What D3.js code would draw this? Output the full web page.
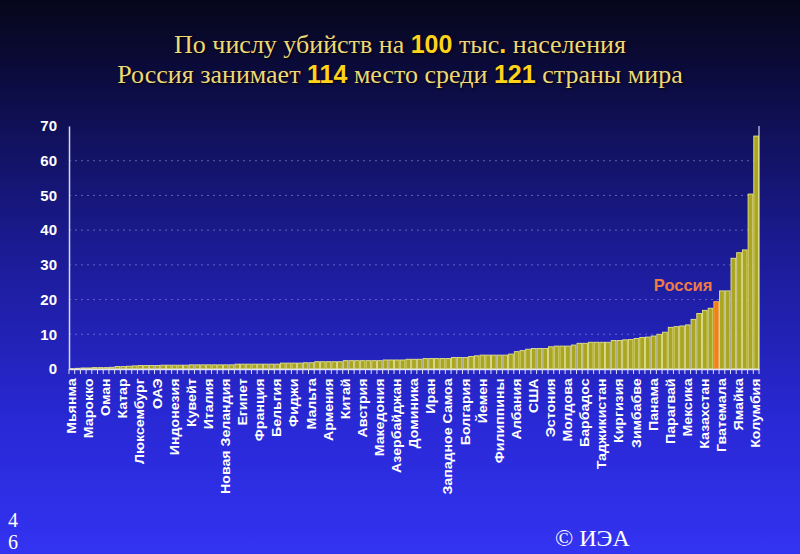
<!DOCTYPE html>
<html><head><meta charset="utf-8">
<script src="https://cdn.jsdelivr.net/npm/d3@7"></script>
<style>html,body{margin:0;padding:0;background:#000;}svg{display:block;}</style>
</head><body>
<script>
const labelNames = ["Мьянма","Марокко","Оман","Катар","Люксембург","ОАЭ","Индонезия","Кувейт","Италия","Новая Зеландия","Египет","Франция","Бельгия","Фиджи","Мальта","Армения","Китай","Австрия","Македония","Азербайджан","Доминика","Иран","Западное Самоа","Болгария","Йемен","Филиппины","Албания","США","Эстония","Молдова","Барбадос","Таджикистан","Киргизия","Зимбабве","Панама","Парагвай","Мексика","Казахстан","Гватемала","Ямайка","Колумбия"];
const values = [
 0.1,0.2,0.3,0.3,0.4,0.4,0.4,0.5,0.7,0.7,
 0.8,0.9,1.0,1.0,1.0,1.0,1.1,1.1,1.1,1.1,
 1.1,1.2,1.2,1.2,1.2,1.2,1.2,1.2,1.2,1.4,
 1.4,1.4,1.4,1.4,1.4,1.4,1.4,1.7,1.7,1.7,
 1.7,1.8,1.8,2.1,2.1,2.1,2.1,2.1,2.4,2.4,
 2.4,2.4,2.4,2.4,2.4,2.6,2.6,2.6,2.6,2.8,
 2.8,2.8,3.0,3.0,3.0,3.0,3.0,3.3,3.3,3.3,
 3.6,3.8,4.0,4.0,4.0,4.0,4.0,4.3,5.0,5.3,
 5.7,5.9,5.9,5.9,6.4,6.6,6.6,6.6,6.9,7.4,
 7.4,7.7,7.7,7.7,7.7,8.2,8.2,8.4,8.5,8.8,
 9.1,9.2,9.5,10.0,10.6,12.0,12.2,12.4,12.7,14.3,
 16.0,16.9,17.5,19.4,22.5,22.5,31.9,33.5,34.3,50.4,
 67.1];
const russiaIndex = 113;
const yTicks = [0,10,20,30,40,50,60,70];
const titleLine1 = [["По числу убийств на ",false],["100",true],[" тыс",false],[".",true],[" населения",false]];
const titleLine2 = [["Россия занимает ",false],["114",true],[" место среди ",false],["121",true],[" страны мира",false]];

const W=800,H=554;
const svg=d3.select("body").append("svg").attr("width",W).attr("height",H);
const defs=svg.append("defs");
const g=defs.append("linearGradient").attr("id","bg").attr("x1",0).attr("y1",0).attr("x2",0).attr("y2",1);
[[0,"#06061a"],[0.15,"#0c0c42"],[0.45,"#1b1b94"],[0.75,"#2828d4"],[1,"#3333f2"]].forEach(s=>g.append("stop").attr("offset",s[0]).attr("stop-color",s[1]));
svg.append("rect").attr("width",W).attr("height",H).attr("fill","url(#bg)");

const pL=69,pR=759,pT=126,pB=369;
const x=d3.scaleBand().domain(d3.range(values.length)).range([pL,pR]).padding(0);
const y=d3.scaleLinear().domain([0,70]).range([pB,pT]);

// gridlines
svg.append("g").selectAll("line").data(yTicks.filter(t=>t>0&&t<70)).join("line")
 .attr("x1",pL).attr("x2",pR).attr("y1",d=>y(d)).attr("y2",d=>y(d))
 .attr("stroke","#8080d0").attr("stroke-width",1).attr("stroke-dasharray","2,4").attr("opacity",0.7);

// right border line
svg.append("line").attr("x1",pR).attr("x2",pR).attr("y1",y(70)).attr("y2",y(0)).attr("stroke","#d0d0f0").attr("stroke-width",1.2);

// bars
svg.append("g").selectAll("rect").data(values).join("rect")
 .attr("x",(d,i)=>x(i)+0.5).attr("width",x.bandwidth()-1)
 .attr("y",d=>y(d)).attr("height",d=>y(0)-y(d))
 .attr("fill",(d,i)=>i===russiaIndex?"#f08010":"#aaa622")
 .attr("stroke",(d,i)=>i===russiaIndex?"#f8b060":"#e4e48a").attr("stroke-width",0.9);

// y axis
const ya=svg.append("g").attr("transform",`translate(${pL},0)`).call(d3.axisLeft(y).tickValues(yTicks).tickSize(0).tickPadding(12));
ya.select(".domain").attr("stroke","#d8d8f4").attr("stroke-width",1.5);
ya.selectAll("text").attr("fill","#ffffff").attr("font-family","Liberation Sans, Arial, sans-serif").attr("font-weight","bold").attr("font-size","15px");

// x axis
const xa=svg.append("g").attr("transform",`translate(0,${pB})`).call(d3.axisBottom(x).tickValues(d3.range(0,values.length,3)).tickSize(0).tickFormat(i=>labelNames[i/3]));
xa.select(".domain").attr("stroke","#e0e0f8").attr("stroke-width",1.5);
xa.selectAll("text").attr("fill","#ffffff").attr("font-family","Liberation Sans, Arial, sans-serif").attr("font-weight","bold").attr("font-size","12px")
 .attr("text-anchor","end").attr("transform","rotate(-90) scale(1.18,1)").attr("x",-8).attr("y",0).attr("dy","0.35em");
// small ticks at every bar boundary
svg.append("g").selectAll("line").data(d3.range(values.length+1)).join("line")
 .attr("x1",i=>pL+i*x.step()).attr("x2",i=>pL+i*x.step()).attr("y1",pB).attr("y2",pB+5)
 .attr("stroke","#e0e0f8").attr("stroke-width",1);

// Russia label
svg.append("text").attr("x",x(russiaIndex)-1).attr("y",y(values[russiaIndex])-11).attr("text-anchor","end")
 .attr("fill","#ee7a45").attr("font-family","Liberation Sans, Arial, sans-serif").attr("font-weight","bold").attr("font-size","16.5px").text("Россия");

// title
function titleLine(parts,yy){
 const t=svg.append("text").attr("x",W/2).attr("y",yy).attr("text-anchor","middle")
  .attr("style","text-shadow:1px 1px 2px #000");
 parts.forEach(p=>{
  t.append("tspan").text(p[0])
   .attr("font-family",p[1]?"Liberation Sans, Arial, sans-serif":"Liberation Serif, Times New Roman, serif")
   .attr("font-weight",p[1]?"bold":"normal")
   .attr("font-size",p[1]?"25px":"26px")
   .attr("fill",p[1]?"#ffd21c":"#efd877");
 });
}
titleLine(titleLine1,53);
titleLine(titleLine2,83);

// footer
svg.append("text").attr("x",555).attr("y",546).attr("fill","#ffffff").attr("font-family","Liberation Serif, Times New Roman, serif").attr("font-size","24px").text("© ИЭА");
svg.append("text").attr("x",8).attr("y",527).attr("fill","#ffffff").attr("font-family","Liberation Serif, Times New Roman, serif").attr("font-size","20px").text("4");
svg.append("text").attr("x",8).attr("y",549).attr("fill","#ffffff").attr("font-family","Liberation Serif, Times New Roman, serif").attr("font-size","20px").text("6");
</script>
</body></html>
